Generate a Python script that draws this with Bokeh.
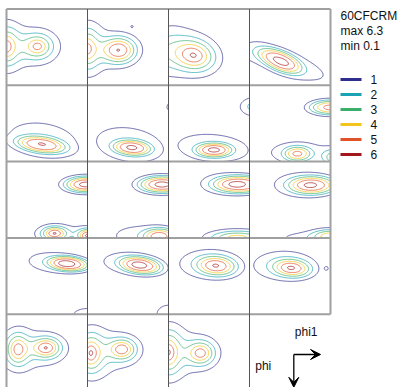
import numpy as np
from bokeh.plotting import figure
from bokeh.models import Range1d, Arrow, VeeHead
from bokeh.embed import file_html
from bokeh.resources import INLINE
from bokeh.core.properties import value

# ---------------- data ----------------
title_text = "60CFCRM"
max_value = 6.3
min_value = 0.1
levels = [1, 2, 3, 4, 5, 6]
level_colors = ["#2e2e8c", "#1aa3b5", "#3aae6a", "#f2c41c", "#e2522a", "#a3161a"]
axis_labels = ["phi1", "phi"]

# ODF sections (phi2 = 0..90 step 5); each peak:
# (phi1 frac, phi frac, height, width phi1, width phi, tilt deg, shape exponent)
phi2_00 = [(0.385, 0.49, 4.85, 0.11, 0.095, 0, 1.5), (0.0, 0.49, 5.2, 0.09, 0.15, 0, 1.5), (0.30, 0.50, 0.8, 0.30, 0.22, 0, 2)]
phi2_05 = [(0.39, 0.54, 5.1, 0.15, 0.12, 0, 2.2), (0.0, 0.52, 5.0, 0.09, 0.16, 0, 1.5), (0.30, 0.53, 0.9, 0.30, 0.24, 0, 2), (0.55, 0.23, 1.05, 0.015, 0.015, 0, 2)]
phi2_10 = [(0.32, 0.61, 5.1, 0.17, 0.13, 15, 1.8), (-0.04, 0.55, 1.8, 0.14, 0.20, 10, 1.5), (0.20, 0.56, 0.9, 0.28, 0.25, 15, 2)]
phi2_15 = [(0.38, 0.68, 4.8, 0.22, 0.10, 25, 3), (0.55, 0.75, 1.5, 0.42, 0.14, 20, 2), (0.05, 0.55, 0.9, 0.15, 0.12, 0, 2)]
phi2_20 = [(0.43, 0.78, 4.3, 0.24, 0.08, 8, 3), (0.45, 0.72, 1.8, 0.38, 0.20, 10, 2)]
phi2_25 = [(0.55, 0.82, 4.35, 0.18, 0.075, 5, 3), (0.52, 0.78, 1.8, 0.38, 0.20, 10, 2), (1.10, 0.27, 1.5, 0.13, 0.08, -10, 2)]
phi2_30 = [(0.56, 0.85, 4.4, 0.17, 0.07, 0, 3), (0.55, 0.82, 1.8, 0.40, 0.16, 5, 2), (1.08, 0.28, 2.6, 0.14, 0.09, 0, 2)]
phi2_35 = [(0.59, 0.90, 3.5, 0.12, 0.07, 0, 2.5), (0.60, 0.88, 1.8, 0.30, 0.12, 0, 2), (1.05, 0.95, 3.5, 0.10, 0.08, 0, 2), (1.0, 0.29, 5.3, 0.20, 0.075, 0, 2.5)]
phi2_40 = [(0.98, 0.30, 6.3, 0.20, 0.08, 0, 2.5), (0.59, 0.94, 4.7, 0.10, 0.06, 0, 2), (0.70, 0.95, 1.5, 0.30, 0.10, 0, 2), (1.0, 0.97, 5.3, 0.08, 0.06, 0, 2)]
phi2_45 = [(0.92, 0.30, 6.3, 0.22, 0.085, 0, 2.5), (0.90, 0.98, 4.6, 0.15, 0.08, 0, 2.5), (0.65, 0.97, 1.6, 0.30, 0.12, 0, 2)]
phi2_50 = [(0.90, 0.30, 5.4, 0.26, 0.09, 0, 2.8), (0.65, 0.28, 1.3, 0.25, 0.12, 0, 2), (0.85, 1.0, 4.5, 0.25, 0.07, 0, 2)]
phi2_55 = [(0.78, 0.31, 5.0, 0.22, 0.09, 0, 2.6), (0.60, 0.30, 1.4, 0.30, 0.14, 0, 2), (1.0, 0.97, 4.0, 0.15, 0.06, 0, 2), (0.70, 1.0, 1.4, 0.30, 0.07, 0, 2)]
phi2_60 = [(0.77, 0.34, 5.2, 0.20, 0.075, 5, 3), (0.55, 0.32, 1.5, 0.30, 0.13, 5, 2), (1.0, 1.02, 2.0, 0.15, 0.08, 0, 2)]
phi2_65 = [(0.66, 0.36, 5.0, 0.20, 0.085, 8, 2.8), (0.50, 0.33, 1.5, 0.32, 0.13, 5, 2), (1.0, 1.0, 2.0, 0.12, 0.10, 0, 2)]
phi2_70 = [(0.60, 0.37, 4.2, 0.17, 0.09, 5, 2.3), (0.50, 0.34, 2.0, 0.30, 0.15, 0, 2)]
phi2_75 = [(0.53, 0.40, 4.2, 0.16, 0.08, 5, 2.3), (0.42, 0.36, 2.1, 0.30, 0.15, 0, 2), (0.95, 0.40, 1.1, 0.02, 0.02, 0, 2)]
phi2_80 = [(0.49, 0.44, 4.9, 0.12, 0.09, 0, 2.0), (0.14, 0.46, 4.5, 0.09, 0.13, 0, 1.8), (0.30, 0.47, 1.3, 0.40, 0.25, 0, 2)]
phi2_85 = [(0.43, 0.46, 4.95, 0.11, 0.09, 0, 1.8), (0.04, 0.51, 5.2, 0.09, 0.14, 0, 1.5), (0.22, 0.50, 1.2, 0.35, 0.26, 0, 2)]
phi2_90 = [(0.40, 0.51, 4.8, 0.11, 0.10, 0, 1.8), (0.0, 0.50, 5.3, 0.09, 0.16, 0, 1.5), (0.20, 0.50, 1.1, 0.33, 0.26, 0, 2)]

sections = [phi2_00, phi2_05, phi2_10, phi2_15, phi2_20, phi2_25, phi2_30,
            phi2_35, phi2_40, phi2_45, phi2_50, phi2_55, phi2_60, phi2_65,
            phi2_70, phi2_75, phi2_80, phi2_85, phi2_90]


def density(peaks, U, V):
    Z = np.zeros_like(U)
    for (u0, v0, a, su, sv, ang, ex) in peaks:
        t = np.deg2rad(ang)
        du, dv = U - u0, V - v0
        a1 = (du * np.cos(t) + dv * np.sin(t)) / su
        a2 = (-du * np.sin(t) + dv * np.cos(t)) / sv
        r2 = a1 ** 2 + a2 ** 2
        Z += a * np.exp(-0.5 * r2 ** (ex / 2.0))
    return Z


# ---------------- layout ----------------
W, H = 398, 387
p = figure(width=W, height=H, x_range=Range1d(0, W), y_range=Range1d(H, 0),
           output_backend="svg", toolbar_location=None, min_border=0,
           x_axis_location=None, y_axis_location=None)
p.grid.visible = False
p.outline_line_color = None

ncols, nrows = 4, 5
pw, ph = 81.0, 76.3
gx0, gy0 = 6.0, 8.5

uu = np.linspace(0, 1, 97)
vv = np.linspace(0, 1, 91)
U, V = np.meshgrid(uu, vv)
for k, sec in enumerate(sections):
    r, c = divmod(k, ncols)
    X = gx0 + c * pw + U * pw
    Y = gy0 + r * ph + V * ph
    Z = density(sec, U, V)
    p.contour(X, Y, Z, levels, line_color=level_colors, line_width=1, line_alpha=0.7)

# grid frame
hy = [gy0 + r * ph for r in range(nrows)]
p.segment(x0=[gx0] * nrows, y0=hy, x1=[gx0 + ncols * pw] * nrows, y1=hy,
          line_color="#a0a0a0", line_width=2)
vx = [gx0 + c * pw for c in range(1, ncols)]
p.segment(x0=vx, y0=[gy0] * len(vx), x1=vx, y1=[H] * len(vx),
          line_color="#555555", line_width=1)
p.segment(x0=[gx0], y0=[gy0], x1=[gx0], y1=[H],
          line_color="#a0a0a0", line_width=2)
p.segment(x0=[gx0 + ncols * pw], y0=[gy0], x1=[gx0 + ncols * pw], y1=[gy0 + (nrows - 1) * ph],
          line_color="#a0a0a0", line_width=2)

# title / legend
font = value("Liberation Sans")
tx = 340
p.text(x=[tx] * 3, y=[15, 30, 45], text=[title_text, f"max {max_value}", f"min {min_value}"],
       text_font=font, text_font_size="12px", text_baseline="middle", text_align="left",
       text_color="#111111")
leg_y = [79 + 15 * i for i in range(len(levels))]
p.segment(x0=[tx] * len(levels), y0=leg_y, x1=[tx + 21] * len(levels), y1=leg_y,
          line_color=level_colors, line_width=3)
p.text(x=[tx + 30] * len(levels), y=leg_y, text=[str(l) for l in levels],
       text_font=font, text_font_size="12px", text_baseline="middle", text_align="left",
       text_color="#111111")

# axis-direction key in the empty last cell
cx0 = gx0 + 3 * pw
cy0 = gy0 + 4 * ph
ox, oy = cx0 + 0.547 * pw, cy0 + 0.528 * ph
p.add_layout(Arrow(x_start=ox, y_start=oy, x_end=ox + 0.33 * pw, y_end=oy,
                   line_width=1.3, line_color="black",
                   end=VeeHead(size=10, fill_color="black", line_color="black")))
p.add_layout(Arrow(x_start=ox, y_start=oy, x_end=ox, y_end=oy + 0.43 * ph,
                   line_width=1.3, line_color="black",
                   end=VeeHead(size=10, fill_color="black", line_color="black")))
p.text(x=[cx0 + 0.70 * pw, cx0 + 0.17 * pw], y=[cy0 + 0.235 * ph, cy0 + 0.68 * ph],
       text=axis_labels, text_font=font, text_font_size="12px",
       text_baseline="middle", text_align="center", text_color="#111111")

open("out.html", "w").write(file_html(p, INLINE))
